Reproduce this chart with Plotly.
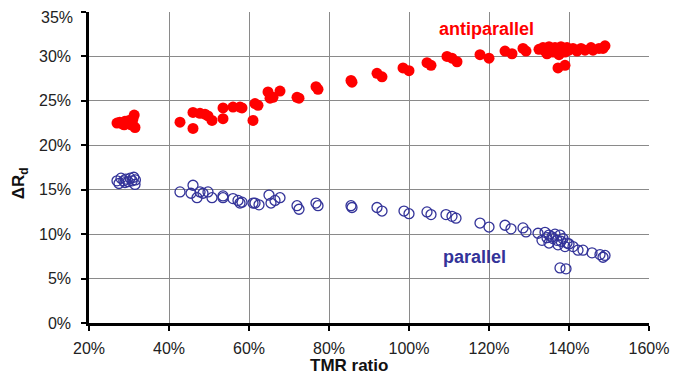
import plotly.graph_objects as go

# Antiparallel (TMR ratio %, dRd %)
ap_x = [27.0, 27.7, 28.3, 28.8, 29.0, 29.5, 30.0, 30.5, 30.8, 31.0, 31.3, 31.5,
        42.75, 46.0, 46.0, 47.75, 49.0, 49.75, 50.75, 53.5, 53.5, 56.0, 57.75, 58.25,
        61.0, 61.5, 62.25, 64.75, 65.25, 66.0, 67.75, 72.0, 72.5, 76.75, 77.25,
        85.5, 85.75, 92.0, 93.25, 98.5, 100.0, 104.5, 105.5, 109.5, 110.75, 112.0,
        117.75, 120.0, 124.0, 125.75, 128.5, 129.25,
        132.5, 133.5, 134.0, 134.5, 135.0, 135.5, 136.0, 136.5, 137.0, 137.5, 138.0,
        138.5, 139.0, 139.5, 140.0, 141.0, 142.0, 143.0, 144.0, 145.5, 146.0, 147.5,
        148.5, 149.0, 137.25, 139.0]
ap_y = [22.5, 22.6, 22.4, 22.3, 22.7, 22.5, 22.8, 22.3, 22.6, 23.0, 23.4, 22.0,
        22.6, 21.9, 23.7, 23.6, 23.5, 23.3, 22.8, 24.2, 23.0, 24.3, 24.3, 24.2,
        22.8, 24.7, 24.5, 26.0, 25.3, 25.4, 26.1, 25.4, 25.3, 26.6, 26.3,
        27.3, 27.1, 28.1, 27.7, 28.7, 28.4, 29.3, 29.0, 30.0, 29.8, 29.4,
        30.2, 29.8, 30.6, 30.3, 30.9, 30.6,
        30.8, 31.0, 30.6, 30.3, 31.1, 30.8, 30.5, 31.0, 30.7, 30.2, 31.1,
        30.8, 30.5, 31.0, 30.7, 30.9, 30.6, 30.9, 30.7, 31.0, 30.7, 30.9,
        30.9, 31.2, 28.7, 29.0]

# Parallel
p_x = [27.0, 27.5, 28.0, 28.7, 29.0, 29.2, 29.8, 30.3, 30.8, 31.2, 31.5, 31.6,
       42.75, 46.0, 45.5, 47.0, 47.75, 48.5, 49.75, 50.75, 53.5, 53.5, 56.0, 57.75,
       57.25, 58.25, 61.0, 61.5, 62.5, 65.0, 65.5, 66.5, 67.75, 72.0, 72.5, 76.75,
       77.25, 85.5, 85.75, 92.0, 93.25, 98.75, 100.0, 104.5, 105.5, 109.25, 110.75,
       111.75, 117.75, 120.0, 124.0, 125.5, 128.5, 129.25, 132.25, 133.25, 134.0,
       134.5, 135.0, 135.0, 135.75, 136.0, 136.5, 137.0, 137.75, 138.0, 138.5,
       137.25, 139.0, 139.5, 140.0, 137.75, 139.25, 141.0, 142.25, 143.5, 145.75,
       147.75, 149.0, 148.5]
p_y = [16.0, 15.7, 16.3, 16.0, 15.8, 16.2, 15.9, 16.3, 16.0, 16.4, 15.6, 16.1,
       14.75, 15.5, 14.6, 14.1, 14.75, 14.6, 14.75, 14.1, 14.3, 14.1, 14.0, 13.5,
       13.8, 13.6, 13.5, 13.5, 13.3, 14.4, 13.5, 13.8, 14.1, 13.2, 12.8, 13.5,
       13.2, 13.2, 13.0, 13.0, 12.6, 12.6, 12.3, 12.5, 12.2, 12.2, 12.0,
       11.8, 11.25, 10.8, 11.0, 10.6, 10.7, 10.25, 10.1, 9.3, 10.2,
       9.6, 9.9, 9.0, 9.7, 9.5, 10.0, 9.3, 9.9, 9.2, 9.5,
       8.8, 8.6, 9.0, 8.9, 6.2, 6.1, 8.6, 8.2, 8.2, 7.9,
       7.7, 7.6, 7.4]

x_ticks = [20, 40, 60, 80, 100, 120, 140, 160]
x_labels = ["20%", "40%", "60%", "80%", "100%", "120%", "140%", "160%"]
y_ticks = [0, 5, 10, 15, 20, 25, 30, 35]
y_labels = ["0%", "5%", "10%", "15%", "20%", "25%", "30%", "35%"]

FONT = "Liberation Sans, Arial, sans-serif"
RED = "#FF0000"
NAVY = "#333399"
TICKFONT = dict(family=FONT, size=16, color="#222222")

fig = go.Figure()
fig.add_trace(go.Scatter(x=ap_x, y=ap_y, mode="markers", name="antiparallel",
                         marker=dict(symbol="circle", size=11, color=RED,
                                     line=dict(width=0))))
fig.add_trace(go.Scatter(x=p_x, y=p_y, mode="markers", name="parallel",
                         marker=dict(symbol="circle-open", size=10, color=NAVY,
                                     line=dict(width=1.3, color=NAVY))))

axis_common = dict(showline=True, linecolor="black", linewidth=2.5,
                   ticks="outside", ticklen=5, tickwidth=2, tickcolor="black",
                   showgrid=True, gridcolor="#8a8a8a", gridwidth=1.2,
                   zeroline=False, tickmode="array", ticklabeloverflow="allow",
                   automargin=False, tickfont=TICKFONT)

fig.update_xaxes(range=[20, 160], tickvals=x_ticks, ticktext=x_labels,
                 ticklabelstandoff=4, **axis_common)
# top label drawn separately so it is not clipped at the page edge
y_text = y_labels[:-1] + [""]
fig.update_yaxes(range=[0, 35], tickvals=y_ticks, ticktext=y_text,
                 ticklabelstandoff=7, **axis_common)
fig.add_annotation(text=y_labels[-1], x=-0.027, y=y_ticks[-1], xref="paper",
                   yref="y", xanchor="right", yanchor="middle", yshift=-5,
                   borderpad=0, showarrow=False, font=TICKFONT)

fig.add_annotation(text="<b>antiparallel</b>", x=119.25, y=33.1,
                   xref="x", yref="y", showarrow=False,
                   font=dict(family=FONT, size=18, color=RED))
fig.add_annotation(text="<b>parallel</b>", x=116.25, y=7.4,
                   xref="x", yref="y", showarrow=False,
                   font=dict(family=FONT, size=18, color=NAVY))
fig.add_annotation(text="<b>TMR ratio</b>", x=85, y=-0.137, xref="x", yref="paper",
                   yanchor="middle", showarrow=False, borderpad=0,
                   font=dict(family=FONT, size=17, color="#111111"))
fig.add_annotation(text="<b>ΔR<sub>d</sub></b>", x=-0.123, y=0.45,
                   xref="paper", yref="paper", textangle=-90, showarrow=False,
                   xanchor="center", yanchor="middle",
                   font=dict(family=FONT, size=17, color="#111111"))

fig.update_layout(width=685, height=377,
                  margin=dict(l=81, r=44, t=4, b=62, autoexpand=False),
                  plot_bgcolor="white", paper_bgcolor="white",
                  showlegend=False)

fig.write_html("out.html")
